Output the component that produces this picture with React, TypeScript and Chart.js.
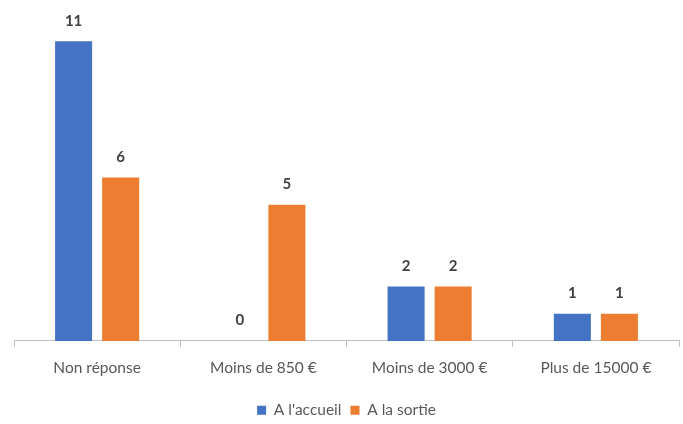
import React, { useEffect, useRef } from "react";
import { Chart, registerables } from "chart.js";

Chart.register(...registerables);

const categories = ["Non réponse", "Moins de 850 €", "Moins de 3000 €", "Plus de 15000 €"];
const accueil = [11, 0, 2, 1];
const sortie = [6, 5, 2, 1];
const seriesNames = ["A l'accueil", "A la sortie"];

const FONT = "Lato, 'Open Sans', sans-serif";

const valueLabels = {
  id: "valueLabels",
  afterDatasetsDraw(chart: any) {
    const ctx = chart.ctx;
    ctx.save();
    ctx.font = `bold 15px ${FONT}`;
    ctx.fillStyle = "#404040";
    ctx.textAlign = "center";
    ctx.textBaseline = "bottom";
    chart.data.datasets.forEach((ds: any, i: number) => {
      const meta = chart.getDatasetMeta(i);
      meta.data.forEach((el: any, j: number) => {
        ctx.fillText(String(ds.data[j]), el.x, el.y - 13);
      });
    });
    ctx.restore();
  },
};

export default function App() {
  const ref = useRef<HTMLCanvasElement>(null);
  useEffect(() => {
    const chart = new Chart(ref.current!, {
      type: "bar",
      data: {
        labels: categories,
        datasets: [
          { label: seriesNames[0], data: accueil, backgroundColor: "#4472C4", barPercentage: 0.787, categoryPercentage: 0.566 },
          { label: seriesNames[1], data: sortie, backgroundColor: "#ED7D31", barPercentage: 0.787, categoryPercentage: 0.566 },
        ],
      },
      options: {
        animation: false,
        responsive: false,
        layout: { padding: { left: 14, right: 4, top: 14, bottom: -4 } },
        scales: {
          x: {
            grid: { display: true, drawOnChartArea: false, drawTicks: true, tickLength: 6, color: "#bfbfbf", offset: true },
            border: { display: true, color: "#bfbfbf", width: 1 },
            ticks: { color: "#595959", font: { family: FONT, size: 15.5 }, padding: 12 },
            afterFit: (scale: any) => {
              scale.height += 4;
            },
          },
          y: { display: false, min: 0, max: 12 },
        },
        plugins: {
          legend: {
            position: "bottom",
            labels: { boxWidth: 9, boxHeight: 9, color: "#595959", font: { family: FONT, size: 15.5 }, padding: 9 },
          },
          tooltip: { enabled: false },
        },
      },
      plugins: [valueLabels],
    });
    return () => chart.destroy();
  }, []);
  return (
    <div style={{ position: "fixed", left: 0, top: 0, width: 683, height: 424, background: "#fff" }}>
      <canvas ref={ref} width={683} height={424} />
    </div>
  );
}
